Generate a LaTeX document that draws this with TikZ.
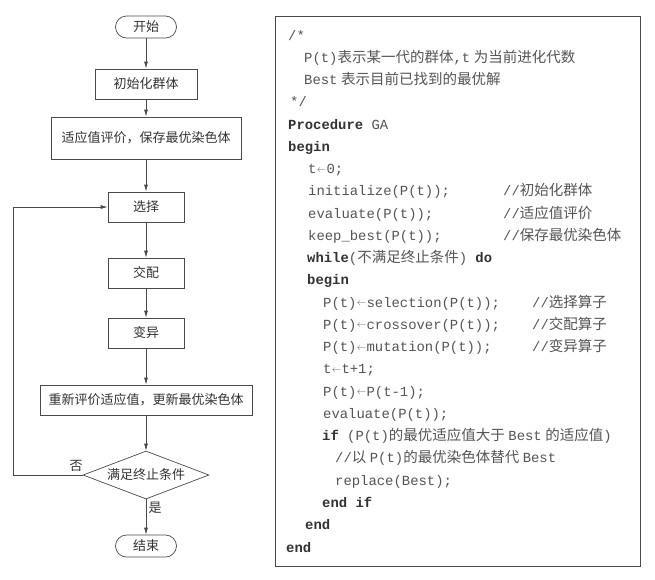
\documentclass[tikz,border=0pt]{standalone}
\usepackage{fontspec}
\usepackage{graphicx}
\setmainfont{Liberation Serif}
\newfontfamily\cjk{Noto Sans CJK SC}
\newfontfamily\monof{Liberation Mono}
\usetikzlibrary{arrows.meta,shapes.geometric}
\newcommand\zhs[1]{{\cjk\fontsize{14.5}{16}\selectfont #1}}
\newcommand\la{\makebox[10pt][c]{\raisebox{1.6pt}{\resizebox{9.5pt}{!}{$\leftarrow$}}}}
\newcommand\gp{\hspace{3.5pt}}
\definecolor{ink}{HTML}{333333}
\definecolor{codeink}{HTML}{555555}
\definecolor{lineink}{HTML}{4A4A4A}
\tikzset{
  flowtext/.style={font=\cjk\fontsize{13}{15}\selectfont, text=ink},
  procbox/.style={draw=lineink, line width=0.7pt, flowtext, inner sep=0pt, minimum height=30pt},
  termbox/.style={draw=lineink, line width=0.7pt, flowtext, inner sep=0pt, minimum width=61pt, minimum height=22pt, rounded corners=11pt},
  decbox/.style={draw=lineink, line width=0.7pt, flowtext, diamond, aspect=2.625, inner sep=0pt, minimum width=126pt, minimum height=48pt},
  flowarrow/.style={draw=lineink, line width=0.7pt, -{Latex[length=7pt,width=4pt]}},
  codeline/.style={anchor=base west, inner sep=0pt, text=codeink, font=\monof\fontsize{13.9}{16}\selectfont},
  lbl/.style={flowtext, inner sep=0pt}
}
\begin{document}
\begin{tikzpicture}[x=1pt,y=-1pt]
\useasboundingbox[fill=white] (0,0) rectangle (655,579);
% ---------------- flowchart ----------------
\node[termbox] (start) at (146,27) {开始};
\node[procbox, minimum width=102pt] (init) at (146,84) {初始化群体};
\node[procbox, minimum width=190pt, minimum height=42pt] (eval) at (146,138) {适应值评价，保存最优染色体};
\node[procbox, minimum width=76pt] (sel) at (146,207) {选择};
\node[procbox, minimum width=76pt] (cross) at (146,273) {交配};
\node[procbox, minimum width=76pt] (mut) at (146,333) {变异};
\node[procbox, minimum width=212pt] (reeval) at (146,400) {重新评价适应值，更新最优染色体};
\node[decbox] (dec) at (146,475) {满足终止条件};
\node[termbox] (stop) at (146,546) {结束};
\coordinate (loopc) at (13,475);
\draw[flowarrow] (start) -- (init);
\draw[flowarrow] (init) -- (eval);
\draw[flowarrow] (eval) -- (sel);
\draw[flowarrow] (sel) -- (cross);
\draw[flowarrow] (cross) -- (mut);
\draw[flowarrow] (mut) -- (reeval);
\draw[flowarrow] (reeval) -- (dec);
\draw[flowarrow] (dec) -- (stop);
\draw[flowarrow] (dec.west) -- (loopc) |- (sel.west);
\node[lbl] (no) at (76,466) {否};
\node[lbl] (yes) at (155,508) {是};
% ---------------- code box ----------------
\node[draw=lineink, line width=0.7pt, minimum width=365pt, minimum height=550pt, inner sep=0pt] (codebox) at (457.5,291) {};
\node[codeline] (c0) at (288,40) {/*};
\node[codeline] (c1) at (304,62.3) {P(t)\zhs{表示某一代的群体},t\gp\zhs{为当前进化代数}};
\node[codeline] (c2) at (304,84.5) {Best\gp\zhs{表示目前已找到的最优解}};
\node[codeline] (c3) at (290,106.8) {*/};
\node[codeline] (c4) at (288,129) {\textbf{\color{ink}Procedure} GA};
\node[codeline] (c5) at (288,151.3) {\textbf{\color{ink}begin}};
\node[codeline] (c6) at (308,173.6) {t\la0;};
\node[codeline] (c7) at (308,195.8) {initialize(P(t));};
\node[codeline] (m7) at (503,195.8) {//\zhs{初始化群体}};
\node[codeline] (c8) at (308,218) {evaluate(P(t));};
\node[codeline] (m8) at (503,218) {//\zhs{适应值评价}};
\node[codeline] (c9) at (308,240.3) {keep\_best(P(t));};
\node[codeline] (m9) at (503,240.3) {//\zhs{保存最优染色体}};
\node[codeline] (c10) at (307,262.6) {\textbf{\color{ink}while}(\zhs{不满足终止条件}) \textbf{\color{ink}do}};
\node[codeline] (c11) at (307,284.9) {\textbf{\color{ink}begin}};
\node[codeline] (c12) at (323,307.1) {P(t)\la selection(P(t));};
\node[codeline] (m12) at (532,307.1) {//\zhs{选择算子}};
\node[codeline] (c13) at (323,329.4) {P(t)\la crossover(P(t));};
\node[codeline] (m13) at (532,329.4) {//\zhs{交配算子}};
\node[codeline] (c14) at (323,351.6) {P(t)\la mutation(P(t));};
\node[codeline] (m14) at (532,351.6) {//\zhs{变异算子}};
\node[codeline] (c15) at (323,373.9) {t\la t+1;};
\node[codeline] (c16) at (323,396.2) {P(t)\la P(t-1);};
\node[codeline] (c17) at (323,418.4) {evaluate(P(t));};
\node[codeline] (c18) at (322,440.7) {\textbf{\color{ink}if} (P(t)\zhs{的最优适应值大于}\gp Best\gp\zhs{的适应值})};
\node[codeline] (c19) at (335,462.9) {//\zhs{以}\gp P(t)\zhs{的最优染色体替代}\gp Best};
\node[codeline] (c20) at (335,485.2) {replace(Best);};
\node[codeline] (c21) at (322,507.5) {\textbf{\color{ink}end if}};
\node[codeline] (c22) at (305,529.7) {\textbf{\color{ink}end}};
\node[codeline] (c23) at (286,552) {\textbf{\color{ink}end}};
\end{tikzpicture}
\end{document}
